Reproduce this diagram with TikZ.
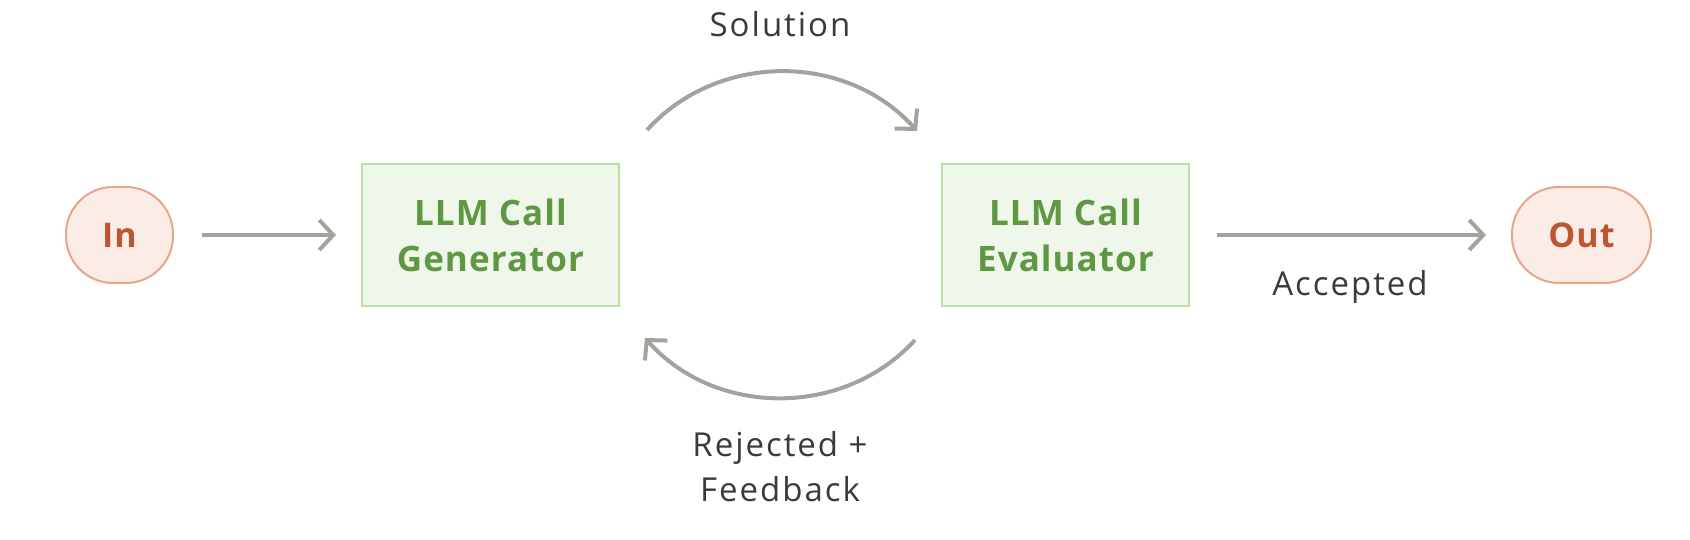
\documentclass[tikz,border=0pt]{standalone}
\usepackage{fontspec}
\setmainfont{Open Sans}
\newfontfamily\labfont[LetterSpace=6]{Open Sans}
\newfontfamily\boxfont[LetterSpace=3]{Open Sans}
\usetikzlibrary{arrows.meta}
\definecolor{gfill}{HTML}{EFF6EA}
\definecolor{gline}{HTML}{B9DFA5}
\definecolor{gtext}{HTML}{5F9743}
\definecolor{pfill}{HTML}{FBECE6}
\definecolor{pline}{HTML}{E8A58C}
\definecolor{ptext}{HTML}{BD5630}
\definecolor{arr}{HTML}{A3A39D}
\definecolor{lbl}{HTML}{3A3A38}
\tikzset{
  term/.style={draw=pline, fill=pfill, line width=2pt, rounded corners=47pt,
    minimum height=96pt, inner sep=0pt, text=ptext,
    font=\boxfont\fontsize{34}{40}\selectfont\bfseries},
  llmbox/.style={draw=gline, fill=gfill, line width=2pt, minimum height=142pt,
    inner sep=0pt, text=gtext, align=center,
    font=\boxfont\fontsize{35}{46}\selectfont\bfseries},
  conn/.style={draw=arr, line width=4pt, -{Straight Barb[length=14pt,width=30pt,line width=4pt]}},
  lab/.style={text=lbl, align=center, font=\labfont\fontsize{33}{45}\selectfont, anchor=base, inner sep=0pt}
}
\begin{document}
\begin{tikzpicture}[x=1pt,y=1pt]
\useasboundingbox (0,0) rectangle (1690,540);
\node[term, minimum width=107pt] (in) at (119.5,305) {In};
\node[llmbox, minimum width=257pt] (gen) at (490.5,305) {LLM Call\\Generator};
\node[llmbox, minimum width=247pt] (eval) at (1065.5,305) {LLM Call\\Evaluator};
\node[term, minimum width=139pt] (out) at (1581.5,305) {Out};
\draw[conn, shorten <=28pt, shorten >=25pt] (in.east) -- (gen.west);
\draw[conn, shorten <=27pt, shorten >=25pt] (eval.east) -- (out.west);
\coordinate (s1) at (647,410);
\coordinate (s2) at (917,409);
\coordinate (r1) at (915,200);
\coordinate (r2) at (645,202);
\draw[conn] (s1) to[bend left=48] (s2);
\draw[conn] (r1) to[bend left=48] (r2);
\node[lab] (sol) at (780,503) {Solution};
\node[lab] (acc) at (1350,244) {Accepted};
\node[lab] (rej) at (780,38) {Rejected +\\Feedback};
\end{tikzpicture}
\end{document}
